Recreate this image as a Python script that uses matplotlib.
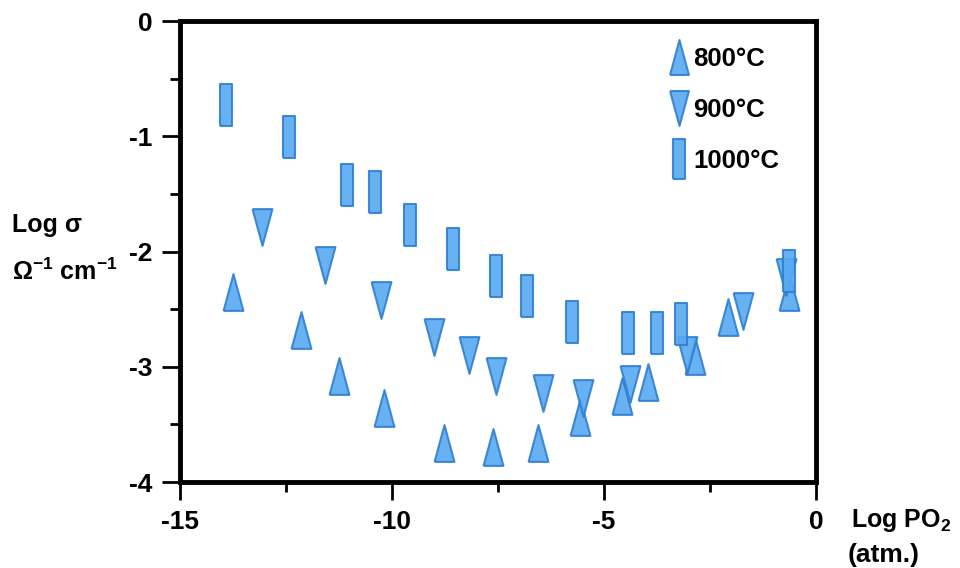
import matplotlib
matplotlib.use("Agg")
import matplotlib.pyplot as plt
from matplotlib.lines import Line2D

plt.rcParams['font.family'] = ['Liberation Sans', 'DejaVu Sans']
plt.rcParams['font.weight'] = 'bold'
plt.rcParams['mathtext.fontset'] = 'custom'
plt.rcParams['mathtext.rm'] = 'Liberation Sans:bold'
plt.rcParams['mathtext.it'] = 'Liberation Sans:bold'
plt.rcParams['mathtext.bf'] = 'Liberation Sans:bold'

# ---- data ----
# 800 C (up triangles)
x_800 = [-13.74, -12.15, -11.26, -10.18, -8.77, -7.61, -6.55, -5.57, -4.57, -3.96, -2.85, -2.07, -0.63]
y_800 = [-2.35, -2.68, -3.08, -3.36, -3.66, -3.70, -3.66, -3.44, -3.25, -3.13, -2.91, -2.57, -2.35]
# 900 C (down triangles)
x_900 = [-13.06, -11.57, -10.27, -9.00, -8.18, -7.55, -6.43, -5.50, -4.39, -3.05, -1.72, -0.70]
y_900 = [-1.79, -2.12, -2.42, -2.74, -2.90, -3.08, -3.23, -3.27, -3.15, -2.90, -2.52, -2.22]
# 1000 C (bars)
x_1000 = [-13.92, -12.43, -11.06, -10.41, -9.58, -8.55, -7.55, -6.82, -5.76, -4.43, -3.75, -3.19, -0.64]
y_1000 = [-0.73, -1.01, -1.42, -1.48, -1.77, -1.98, -2.21, -2.39, -2.61, -2.71, -2.71, -2.63, -2.17]

series = [(x_800, y_800, '800°C'), (x_900, y_900, '900°C'), (x_1000, y_1000, '1000°C')]

# marker shapes (tall triangles and thin bar); verts get scaled to +-0.5*ms
up = [(-0.54, -1), (0.54, -1), (0, 1), (-0.54, -1)]
down = [(-0.54, 1), (0.54, 1), (0, -1), (-0.54, 1)]
bar = [(-0.31, -1), (0.31, -1), (0.31, 1), (-0.31, 1), (-0.31, -1)]
shapes = [(up, 26.5), (down, 26.5), (bar, 30)]

FILL = '#58aaf2'
EDGE = '#2f7fd0'

fig = plt.figure(figsize=(9.6, 5.68), dpi=100)
ax = fig.add_axes([0.1875, 0.1514, 0.6625, 0.8116])

handles = []
for (xs, ys, lab), (mk, ms) in zip(series, shapes):
    ax.plot(xs, ys, linestyle='none', marker=mk, markersize=ms,
            markerfacecolor=FILL, markeredgecolor=EDGE, markeredgewidth=1.5, alpha=0.9)
    handles.append(Line2D([], [], linestyle='none', marker=mk, markersize=ms * 0.95,
                          markerfacecolor=FILL, markeredgecolor=EDGE, markeredgewidth=1.5,
                          alpha=0.9, label=lab))

ax.set_xlim(-15, 0)
ax.set_ylim(-4, 0)
ax.set_xticks([-15, -10, -5, 0])
ax.set_xticks([-12.5, -7.5, -2.5], minor=True)
ax.set_yticks([0, -1, -2, -3, -4])
ax.set_yticks([-0.5, -1.5, -2.5, -3.5], minor=True)
ax.set_xticklabels(['-15', '-10', '-5', '0'])
ax.set_yticklabels(['0', '-1', '-2', '-3', '-4'])
ax.tick_params(which='major', length=13, width=2, labelsize=19, pad=7)
ax.tick_params(which='minor', length=7, width=2)
for s in ax.spines.values():
    s.set_linewidth(3.5)

leg = ax.legend(handles=handles, loc='upper left', bbox_to_anchor=(0.757, 0.965),
                frameon=False, fontsize=18.5, handlelength=0.6, handletextpad=0.25,
                labelspacing=1.05, borderaxespad=0)

fig.text(12 / 960, 1 - 225 / 568, 'Log σ', fontsize=18, va='center', ha='left')
fig.text(12 / 960, 1 - 272 / 568, 'Ω$^{-1}$ cm$^{-1}$', fontsize=18, va='center', ha='left')
fig.text(851 / 960, 1 - 521 / 568, 'Log PO$_2$', fontsize=18, va='center', ha='left')
fig.text(848 / 960, 1 - 555 / 568, '(atm.)', fontsize=19, va='center', ha='left')

fig.savefig('out.png', dpi=100)
